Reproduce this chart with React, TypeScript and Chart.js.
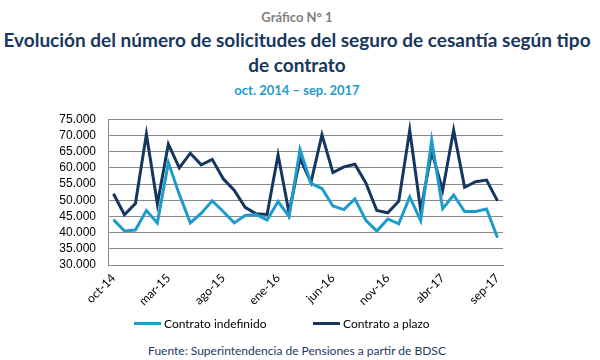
import React, { useEffect, useRef } from "react";
import { Chart, registerables } from "chart.js";

Chart.register(...registerables);

const months = [
  "oct-14", "nov-14", "dic-14", "ene-15", "feb-15", "mar-15", "abr-15", "may-15", "jun-15",
  "jul-15", "ago-15", "sep-15", "oct-15", "nov-15", "dic-15", "ene-16", "feb-16", "mar-16",
  "abr-16", "may-16", "jun-16", "jul-16", "ago-16", "sep-16", "oct-16", "nov-16", "dic-16",
  "ene-17", "feb-17", "mar-17", "abr-17", "may-17", "jun-17", "jul-17", "ago-17", "sep-17",
];

const indefinido = [
  44000, 40500, 40800, 46800, 43000, 61600, 51800, 43000, 46000, 49800, 46500, 43000,
  45300, 45600, 43900, 49600, 45000, 65700, 55200, 53600, 48200, 47100, 50400, 43800,
  40500, 44200, 42700, 51000, 43700, 68500, 47400, 51600, 46500, 46500, 47300, 38400,
];

const plazo = [
  52000, 45500, 49000, 70400, 48800, 67300, 60000, 64500, 60900, 62600, 56600, 53100,
  47800, 45800, 45600, 64000, 46100, 62900, 55500, 70200, 58500, 60300, 61100, 55300,
  46800, 46100, 49700, 71600, 46800, 65000, 53000, 71600, 54000, 55700, 56200, 49800,
];

const seriesNames = ["Contrato indefinido", "Contrato a plazo"];
const seriesColors = ["#1E9BCD", "#15365F"];

const fmt = (v: number) => String(v).replace(/\B(?=(\d{3})+(?!\d))/g, ".");

export default function App() {
  const ref = useRef<HTMLCanvasElement | null>(null);

  useEffect(() => {
    document.body.style.margin = "0";
    const chart = new Chart(ref.current as HTMLCanvasElement, {
      type: "line",
      data: {
        labels: months,
        datasets: [
          {
            label: seriesNames[0],
            data: indefinido,
            borderColor: seriesColors[0],
            backgroundColor: seriesColors[0],
            borderWidth: 3,
            pointRadius: 0,
            tension: 0,
          },
          {
            label: seriesNames[1],
            data: plazo,
            borderColor: seriesColors[1],
            backgroundColor: seriesColors[1],
            borderWidth: 3,
            pointRadius: 0,
            tension: 0,
          },
        ],
      },
      options: {
        animation: false,
        responsive: false,
        layout: { padding: { left: 0, right: 97, top: 18, bottom: 0 } },
        plugins: { legend: { display: false }, tooltip: { enabled: false } },
        scales: {
          x: {
            offset: true,
            grid: { display: false, drawTicks: false },
            border: { color: "#8A8A8A", width: 1 },
            ticks: {
              autoSkip: false,
              maxRotation: 45,
              minRotation: 45,
              padding: 6,
              color: "#000",
              font: { family: "Lato", size: 12 },
              callback: (_v: any, i: number) => (i % 5 === 0 ? months[i] : ""),
            },
            afterFit: (s: any) => {
              s.height = 55;
            },
          },
          y: {
            min: 30000,
            max: 75000,
            grid: { color: "#8A8A8A", lineWidth: 1, drawTicks: false },
            border: { color: "#8A8A8A", width: 1 },
            ticks: {
              stepSize: 5000,
              autoSkip: false,
              padding: 12,
              color: "#000",
              font: { family: "Liberation Sans", size: 12 },
              callback: (v: any) => fmt(Number(v)),
            },
            afterFit: (s: any) => {
              s.width = 108;
            },
          },
        },
      },
    });
    return () => chart.destroy();
  }, []);

  const abs = (top: number): React.CSSProperties => ({
    position: "absolute",
    top,
    left: 0,
    width: 600,
    textAlign: "center",
    whiteSpace: "nowrap",
  });

  return (
    <div style={{ position: "relative", width: 600, height: 360, background: "#fff", fontFamily: "Lato", overflow: "hidden" }}>
      <div style={{ ...abs(9), color: "#7F7F7F", fontWeight: 700, fontSize: 13, left: -3 }}>Gráfico N° 1</div>
      <div style={{ ...abs(27), color: "#17375E", fontWeight: 700, fontSize: 19, lineHeight: "25px", left: -3 }}>
        Evolución del número de solicitudes del seguro de cesantía según tipo
        <br />
        de contrato
      </div>
      <div style={{ ...abs(82), color: "#1E9BCD", fontWeight: 700, fontSize: 13, left: -3 }}>oct. 2014 – sep. 2017</div>
      <canvas ref={ref} width={600} height={220} style={{ position: "absolute", top: 100, left: 0 }} />
      <div style={{ position: "absolute", top: 316, left: 134, display: "flex", alignItems: "center", fontSize: 12, color: "#000" }}>
        <span style={{ display: "inline-block", width: 27, height: 3, background: seriesColors[0], marginRight: 3 }} />
        <span>{seriesNames[0]}</span>
      </div>
      <div style={{ position: "absolute", top: 316, left: 313, display: "flex", alignItems: "center", fontSize: 12, color: "#000" }}>
        <span style={{ display: "inline-block", width: 27, height: 3, background: seriesColors[1], marginRight: 3 }} />
        <span>{seriesNames[1]}</span>
      </div>
      <div style={{ ...abs(343), color: "#1F3864", fontSize: 12, left: -3 }}>
        Fuente: Superintendencia de Pensiones a partir de BDSC
      </div>
    </div>
  );
}
